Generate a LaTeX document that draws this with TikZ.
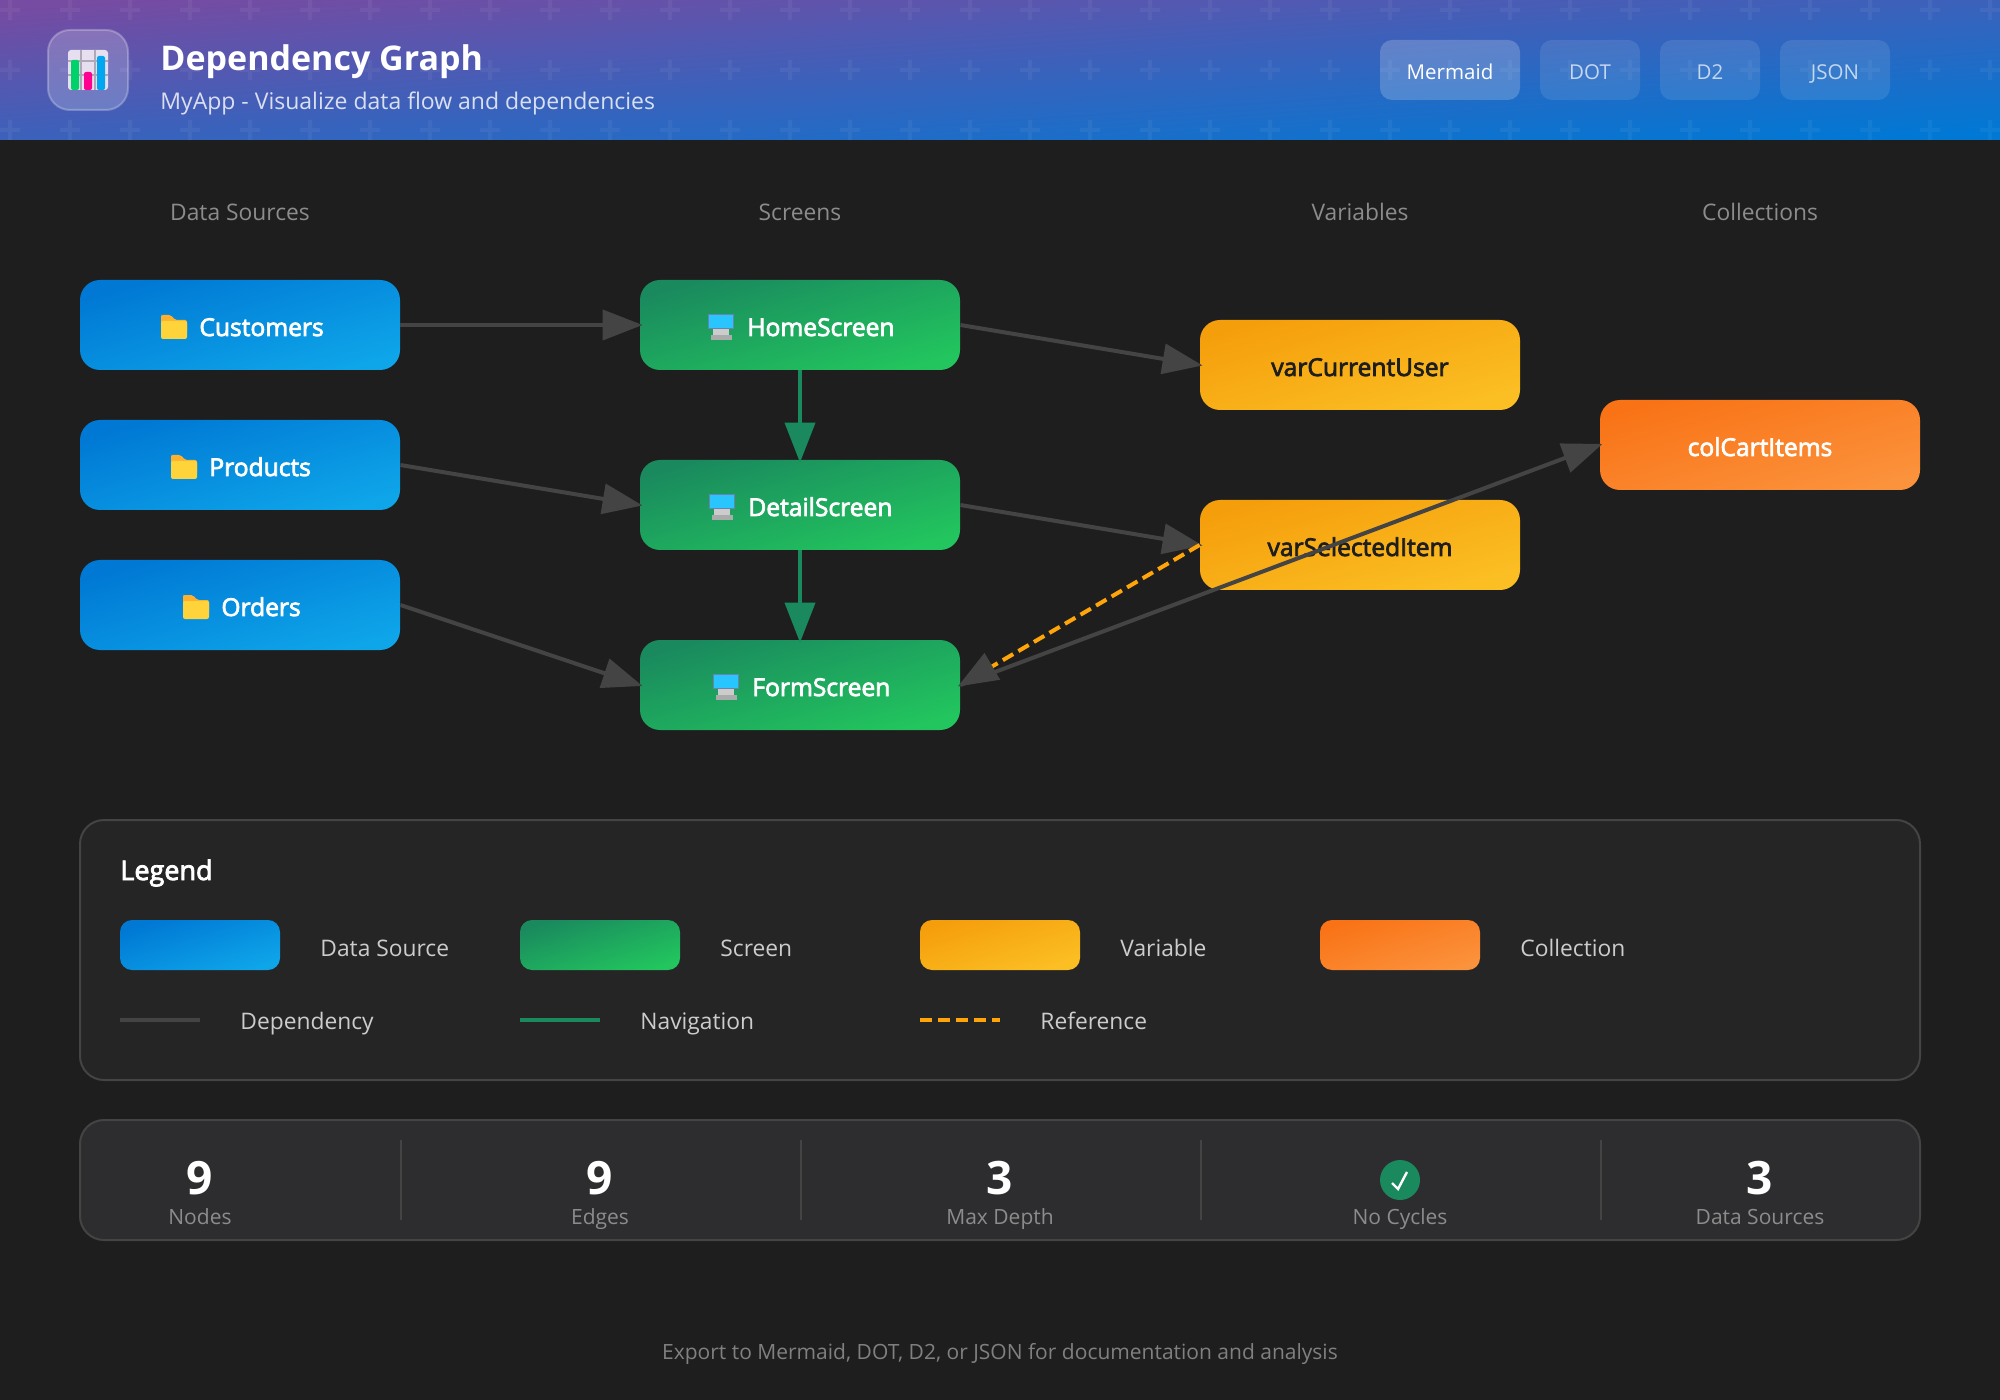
\documentclass[tikz,border=0pt]{standalone}
\usepackage{fontspec}
\setmainfont{Open Sans}
\newfontfamily\semifont[FakeBold=3]{Open Sans}
\usetikzlibrary{arrows.meta, positioning, calc}
\definecolor{figbg}{HTML}{1E1E1E}
\definecolor{figpanel}{HTML}{252526}
\definecolor{figstats}{HTML}{2D2D30}
\definecolor{figborder}{HTML}{444444}
\definecolor{figpurple}{HTML}{764BA2}
\definecolor{figblue}{HTML}{0078D4}
\definecolor{figsky}{HTML}{0EA5E9}
\definecolor{figgreen}{HTML}{1A8A5E}
\definecolor{figlime}{HTML}{22C55E}
\definecolor{figamber}{HTML}{F59E0B}
\definecolor{figyellow}{HTML}{FBBF24}
\definecolor{figorange}{HTML}{F97316}
\definecolor{figpeach}{HTML}{FB923C}
\definecolor{figdash}{HTML}{FFA50A}
\definecolor{iconcyan}{HTML}{29C5FF}
\definecolor{iconframe}{HTML}{6A82B0}
\definecolor{iconfold}{HTML}{FFB02E}
\definecolor{iconpage}{HTML}{FFD43B}
\definecolor{barsheet}{HTML}{E6DFF0}
\definecolor{bargrid}{HTML}{B0A8B8}
\definecolor{bargreen}{HTML}{00D26A}
\definecolor{barpink}{HTML}{FF0090}
\definecolor{barblue}{HTML}{00A6F0}
\tikzset{
  plain/.style 2 args={inner sep=0pt, text height=#1, text depth=0pt, text=#2},
  coltitle/.style={plain={8pt}{black!45!white}, font=\fontsize{11.4}{14}\selectfont},
  fignode/.style={rounded corners=10pt, minimum width=160pt, minimum height=45pt, inner sep=0pt,
    text height=11pt, text depth=0pt, font=\fontsize{12.3}{15}\semifont, text=white},
  nodelabel/.style={plain={11pt}{white}, anchor=west, font=\fontsize{12.3}{15}\semifont},
  nodeshade/.style 2 args={top color=#1, bottom color=#2, shading angle=15.7},
  snode/.style={fignode, nodeshade={figblue}{figsky}},
  vnode/.style={fignode, nodeshade={figgreen}{figlime}},
  wnode/.style={fignode, nodeshade={figamber}{figyellow}, text=figbg},
  cnode/.style={fignode, nodeshade={figorange}{figpeach}},
  swatch/.style 2 args={rounded corners=6pt, minimum width=80pt, minimum height=25pt, inner sep=0pt,
    top color=#1, bottom color=#2, shading angle=17.4},
  legtext/.style={plain={8pt}{black!20!white}, anchor=west, font=\fontsize{11.4}{14}\selectfont},
  statval/.style={plain={16.4pt}{white}, font=\fontsize{23}{26}\selectfont\bfseries},
  statlabel/.style={plain={8pt}{black!45!white}, font=\fontsize{10.5}{13}\selectfont},
  tabbox/.style={rounded corners=6pt, fill=white, fill opacity=0.1, text opacity=0.7, minimum height=30pt, inner sep=0pt,
    text height=10pt, text depth=0pt, text=white, font=\fontsize{10.25}{13}\selectfont},
  deparrow/.style={-{Triangle[length=20pt, width=15pt]}, line width=2pt, figborder, shorten >=-1.5pt},
  navarrow/.style={-{Triangle[length=20pt, width=15pt]}, line width=2pt, figgreen, shorten >=-1.5pt},
  refarrow/.style={-{Triangle[length=20pt, width=15pt, color=figborder]}, line width=2pt, figdash, dash pattern=on 6pt off 3pt, shorten >=-1.5pt},
  foldericon/.pic={
    \fill[iconfold, rounded corners=1pt] (0,-9) -- (0,-10) -- (10,-10) -- (14,-5) -- (26,-5) -- (26,8) -- (0,8) -- cycle;
    \fill[iconpage, rounded corners=1pt] (0,-4) rectangle (26,14);
  },
  screenicon/.pic={
    \fill[iconframe] (0,-11) rectangle (26,4);
    \fill[iconcyan] (1,-10) rectangle (25,3);
    \fill[black!20!white] (5,4) rectangle (21,10);
    \fill[black!33!white] (3,10) rectangle (24,15);
  },
}
\begin{document}
\begin{tikzpicture}[x=0.5pt,y=-0.5pt]
  \useasboundingbox (0,0) rectangle (2000,1400);
  \fill[figbg] (0,0) rectangle (2000,1400);
  % Kopfzeile
  \shade[top color=figpurple, bottom color=figblue, shading angle=4] (0,0) rectangle (2000,140);
  \begin{scope}
    \clip (0,0) rectangle (2000,140);
    \foreach \i in {0,...,33} {
      \foreach \j in {0,1,2} {
        \fill[white, opacity=0.05] ({60*\i},{8+60*\j}) rectangle ++(20,4) ({8+60*\i},{60*\j}) rectangle ++(4,20);
      }
    }
  \end{scope}
  \draw[white, draw opacity=0.25, fill opacity=0.2, fill=white, line width=1pt, rounded corners=11pt] (48,30) rectangle (128,110);
  \fill[barsheet, rounded corners=1.5pt] (68,50) rectangle (108,90);
  \foreach \y in {61,75} { \draw[bargrid, line width=0.6pt] (68,\y) -- (108,\y); }
  \foreach \x in {81,95} { \draw[bargrid, line width=0.6pt] (\x,50) -- (\x,90); }
  \fill[bargreen, rounded corners=1pt] (71,60) rectangle (79,90);
  \fill[barpink, rounded corners=1pt] (84,72) rectangle (92,90);
  \fill[barblue, rounded corners=1pt] (97,56) rectangle (105,90);
  \node[plain={12.5pt}{white}, anchor=west, font=\fontsize{17}{21}\selectfont\bfseries] (title) at (160,58) {Dependency Graph};
  \node[plain={8.2pt}{white}, text opacity=0.8, anchor=west, font=\fontsize{11.5}{14}\selectfont] (subtitle) at (160,101) {MyApp - Visualize data flow and dependencies};
  \node[tabbox, minimum width=70pt, fill opacity=0.2, text opacity=1] (tabmermaid) at (1450,70) {Mermaid};
  \node[tabbox, minimum width=50pt] (tabdot) at (1590,70) {DOT};
  \node[tabbox, minimum width=50pt] (tabdtwo) at (1710,70) {D2};
  \node[tabbox, minimum width=55pt] (tabjson) at (1835,70) {JSON};
  % Spalten
  \foreach \x/\t in {240/Data Sources,800/Screens,1360/Variables,1760/Collections} {
    \node[coltitle] (col-\t) at (\x,213) {\t};
  }
  % Knoten
  \node[snode] (customers) at (240,325) {};
  \node[snode] (products) at (240,465) {};
  \node[snode] (orders) at (240,605) {};
  \node[vnode] (home) at (800,325) {};
  \node[vnode] (detail) at (800,505) {};
  \node[vnode] (form) at (800,685) {};
  \node[wnode] (current) at (1360,365) {varCurrentUser};
  \node[wnode] (selected) at (1360,545) {varSelectedItem};
  \node[cnode] (cart) at (1760,445) {colCartItems};
  % Symbole und Beschriftung
  \foreach \n/\t/\off in {customers/Customers/-79,products/Products/-69,orders/Orders/-57} {
    \node[nodelabel] (\n-label) at ($(\n.center)+(\off+38,0)$) {\t};
    \path (\n.center) ++(\off,0) pic {foldericon};
  }
  \foreach \n/\t/\off in {home/HomeScreen/-92,detail/DetailScreen/-91,form/FormScreen/-87} {
    \node[nodelabel] (\n-label) at ($(\n.center)+(\off+39,0)$) {\t};
    \path (\n.center) ++(\off,0) pic {screenicon};
  }
  % Kanten
  \draw[deparrow] (customers) -- (home);
  \draw[deparrow] (products.east) -- (detail.west);
  \draw[deparrow] (orders.east) -- (form.west);
  \draw[deparrow] (home.east) -- (current.west);
  \draw[deparrow] (detail.east) -- (selected.west);
  \draw[deparrow] (form.east) -- (cart.west);
  \draw[navarrow] (home) -- (detail);
  \draw[navarrow] (detail) -- (form);
  \draw[refarrow] (selected.west) -- (form.east);
  % Legende
  \draw[figborder, fill=figpanel, line width=1pt, rounded corners=12pt] (80,820) rectangle (1920,1080);
  \node[plain={10pt}{white}, anchor=west, font=\fontsize{13.5}{16}\semifont] (legend) at (120,870) {Legend};
  \node[swatch={figblue}{figsky}] (swsource) at (200,945) {};
  \node[swatch={figgreen}{figlime}] (swscreen) at (600,945) {};
  \node[swatch={figamber}{figyellow}] (swvariable) at (1000,945) {};
  \node[swatch={figorange}{figpeach}] (swcollection) at (1400,945) {};
  \node[legtext] (lbsource) at (320,948) {Data Source};
  \node[legtext] (lbscreen) at (720,948) {Screen};
  \node[legtext] (lbvariable) at (1120,948) {Variable};
  \node[legtext] (lbcollection) at (1520,948) {Collection};
  \foreach \n/\x/\t in {dep/240/Dependency,nav/640/Navigation,ref/1040/Reference} {
    \node[legtext] (lb\n) at (\x,1021) {\t};
    \coordinate (ln\n-a) at (\x-120,1020);
    \coordinate (ln\n-b) at (\x-40,1020);
  }
  \draw[figborder, line width=2pt] (lndep-a) -- (lndep-b);
  \draw[figgreen, line width=2pt] (lnnav-a) -- (lnnav-b);
  \draw[figdash, line width=2pt, dash pattern=on 6pt off 3pt] (lnref-a) -- (lnref-b);
  % Kennzahlen
  \draw[figborder, fill=figstats, line width=1pt, rounded corners=12pt] (80,1120) rectangle (1920,1240);
  \foreach \x in {401,801,1201,1601} { \draw[figborder, line width=1pt] (\x,1140) -- (\x,1220); }
  \foreach \n/\x/\v/\t in {nodes/200/9/Nodes,edges/600/9/Edges,depth/1000/3/Max Depth,sources/1760/3/Data Sources} {
    \node[statval] (val-\n) at (\x,1178) {\v};
    \node[statlabel] (lab-\n) at (\x,1216) {\t};
  }
  \node[circle, fill=figgreen, minimum size=20pt, inner sep=0pt] (okdot) at (1400,1180) {};
  \draw[white, line width=1.2pt] (1392,1183) -- (1398,1189) -- (1407,1172);
  \node[statlabel] (lab-cycles) at (1400,1216) {No Cycles};
  \node[plain={7.5pt}{black!50!white}, font=\fontsize{10.5}{13}\selectfont] (footer) at (1000,1352) {Export to Mermaid, DOT, D2, or JSON for documentation and analysis};
\end{tikzpicture}
\end{document}
